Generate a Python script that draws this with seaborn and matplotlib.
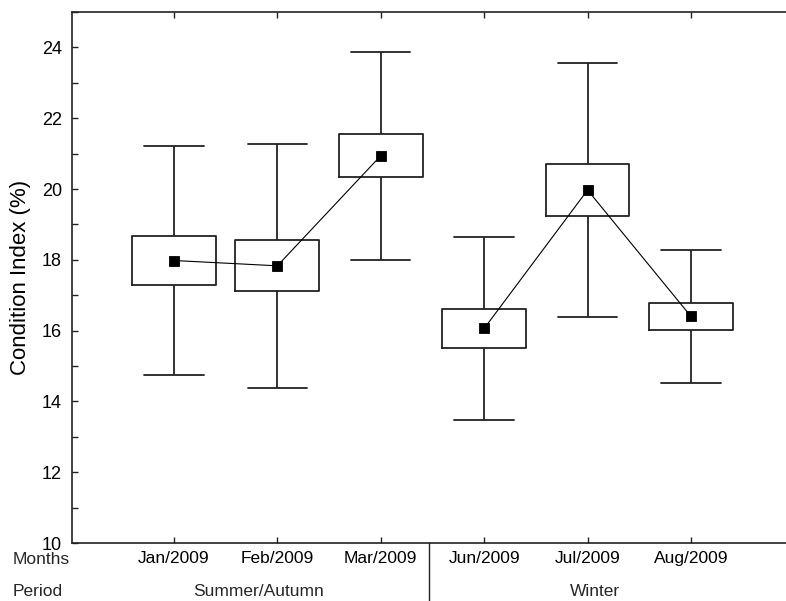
import numpy as np
import pandas as pd
import matplotlib
matplotlib.use("Agg")
import matplotlib.pyplot as plt
import matplotlib.transforms as mtransforms
from matplotlib.ticker import MultipleLocator
import seaborn as sns

# ---- data ----
months = ["Jan/2009", "Feb/2009", "Mar/2009", "Jun/2009", "Jul/2009", "Aug/2009"]
periods = ["Summer/Autumn", "Summer/Autumn", "Summer/Autumn", "Winter", "Winter", "Winter"]
period_labels = ["Summer/Autumn", "Winter"]
mean_ci = [17.98, 17.83, 20.94, 16.06, 19.97, 16.40]   # square markers (mean)
se_ci = [0.69, 0.72, 0.61, 0.56, 0.745, 0.385]          # box half-height
sd_ci = [3.23, 3.44, 2.94, 2.59, 3.59, 1.875]           # whisker half-length
y_ticks = [10, 12, 14, 16, 18, 20, 22, 24]

# box table: five values per month so the quartiles/extremes equal mean±se / mean±sd
rows = []
for m, p, mu, se, sd in zip(months, periods, mean_ci, se_ci, sd_ci):
    for v in (mu - sd, mu - se, mu, mu + se, mu + sd):
        rows.append({"month": m, "period": p, "value": v})
box_df = pd.DataFrame(rows)
mean_df = pd.DataFrame({"month": months, "period": periods, "mean": mean_ci})

sns.set_style("ticks")
plt.rcParams["font.family"] = ["Liberation Sans", "DejaVu Sans"]
ink = "#222222"

W, H = 786, 601
fig = plt.figure(figsize=(W / 100, H / 100), dpi=100)
ax = fig.add_axes([72 / W, 1 - 543 / H, 1 - 72 / W, (543 - 12) / H])

sns.boxplot(data=box_df, x="month", y="value", order=months, whis=(0, 100),
            width=0.81, fill=False, color=ink, linewidth=1.3, showfliers=False,
            medianprops={"visible": False}, capwidths=0.575, ax=ax)

sns.pointplot(data=mean_df, x="month", y="mean", hue="period", order=months,
              hue_order=period_labels, palette=["#000000", "#000000"], markers="s",
              linestyles="-", errorbar=None, dodge=False, legend=False,
              markersize=7, linewidth=0.8, ax=ax)

ax.set_xlim(-0.986, 5.919)
ax.set_ylim(10, 25)
ax.set_xticks(range(len(months)), months)
ax.set_yticks(y_ticks, [str(t) for t in y_ticks])
ax.yaxis.set_minor_locator(MultipleLocator(1))
ax.set_xlabel("")
ax.set_ylabel("Condition Index (%)", fontsize=16, labelpad=8, color="black")

ax.tick_params(axis="both", which="both", direction="in", top=True, right=False,
               width=1.0, color=ink, labelcolor="black")
ax.tick_params(axis="y", which="major", length=4, labelsize=13, pad=7.2)
ax.tick_params(axis="y", which="minor", length=4)
ax.tick_params(axis="x", which="major", length=4, labelsize=12.5, pad=5.5)
ax.tick_params(axis="x", which="minor", top=False, bottom=False)

for side in ("left", "top", "bottom"):
    ax.spines[side].set_visible(True)
    ax.spines[side].set_linewidth(1.2)
    ax.spines[side].set_color(ink)
ax.spines["right"].set_visible(False)

# row headers and period labels under the axis
fig.text(12.5 / W, 1 - 560 / H, "Months", ha="left", va="center", fontsize=12.5)
fig.text(12.5 / W, 1 - 592 / H, "Period", ha="left", va="center", fontsize=12.5)
tr = mtransforms.blended_transform_factory(ax.transData, fig.transFigure)
for lab, xc in zip(period_labels, [0.82, 4.07]):
    ax.text(xc, 1 - 592 / H, lab, transform=tr, ha="center", va="center", fontsize=12.5)

# divider between the two periods below the axis
trd = mtransforms.blended_transform_factory(ax.transData, ax.transAxes)
ax.plot([2.47, 2.47], [0, -0.12], transform=trd, color=ink, linewidth=1.0, clip_on=False)

fig.savefig("out.png", dpi=100)
